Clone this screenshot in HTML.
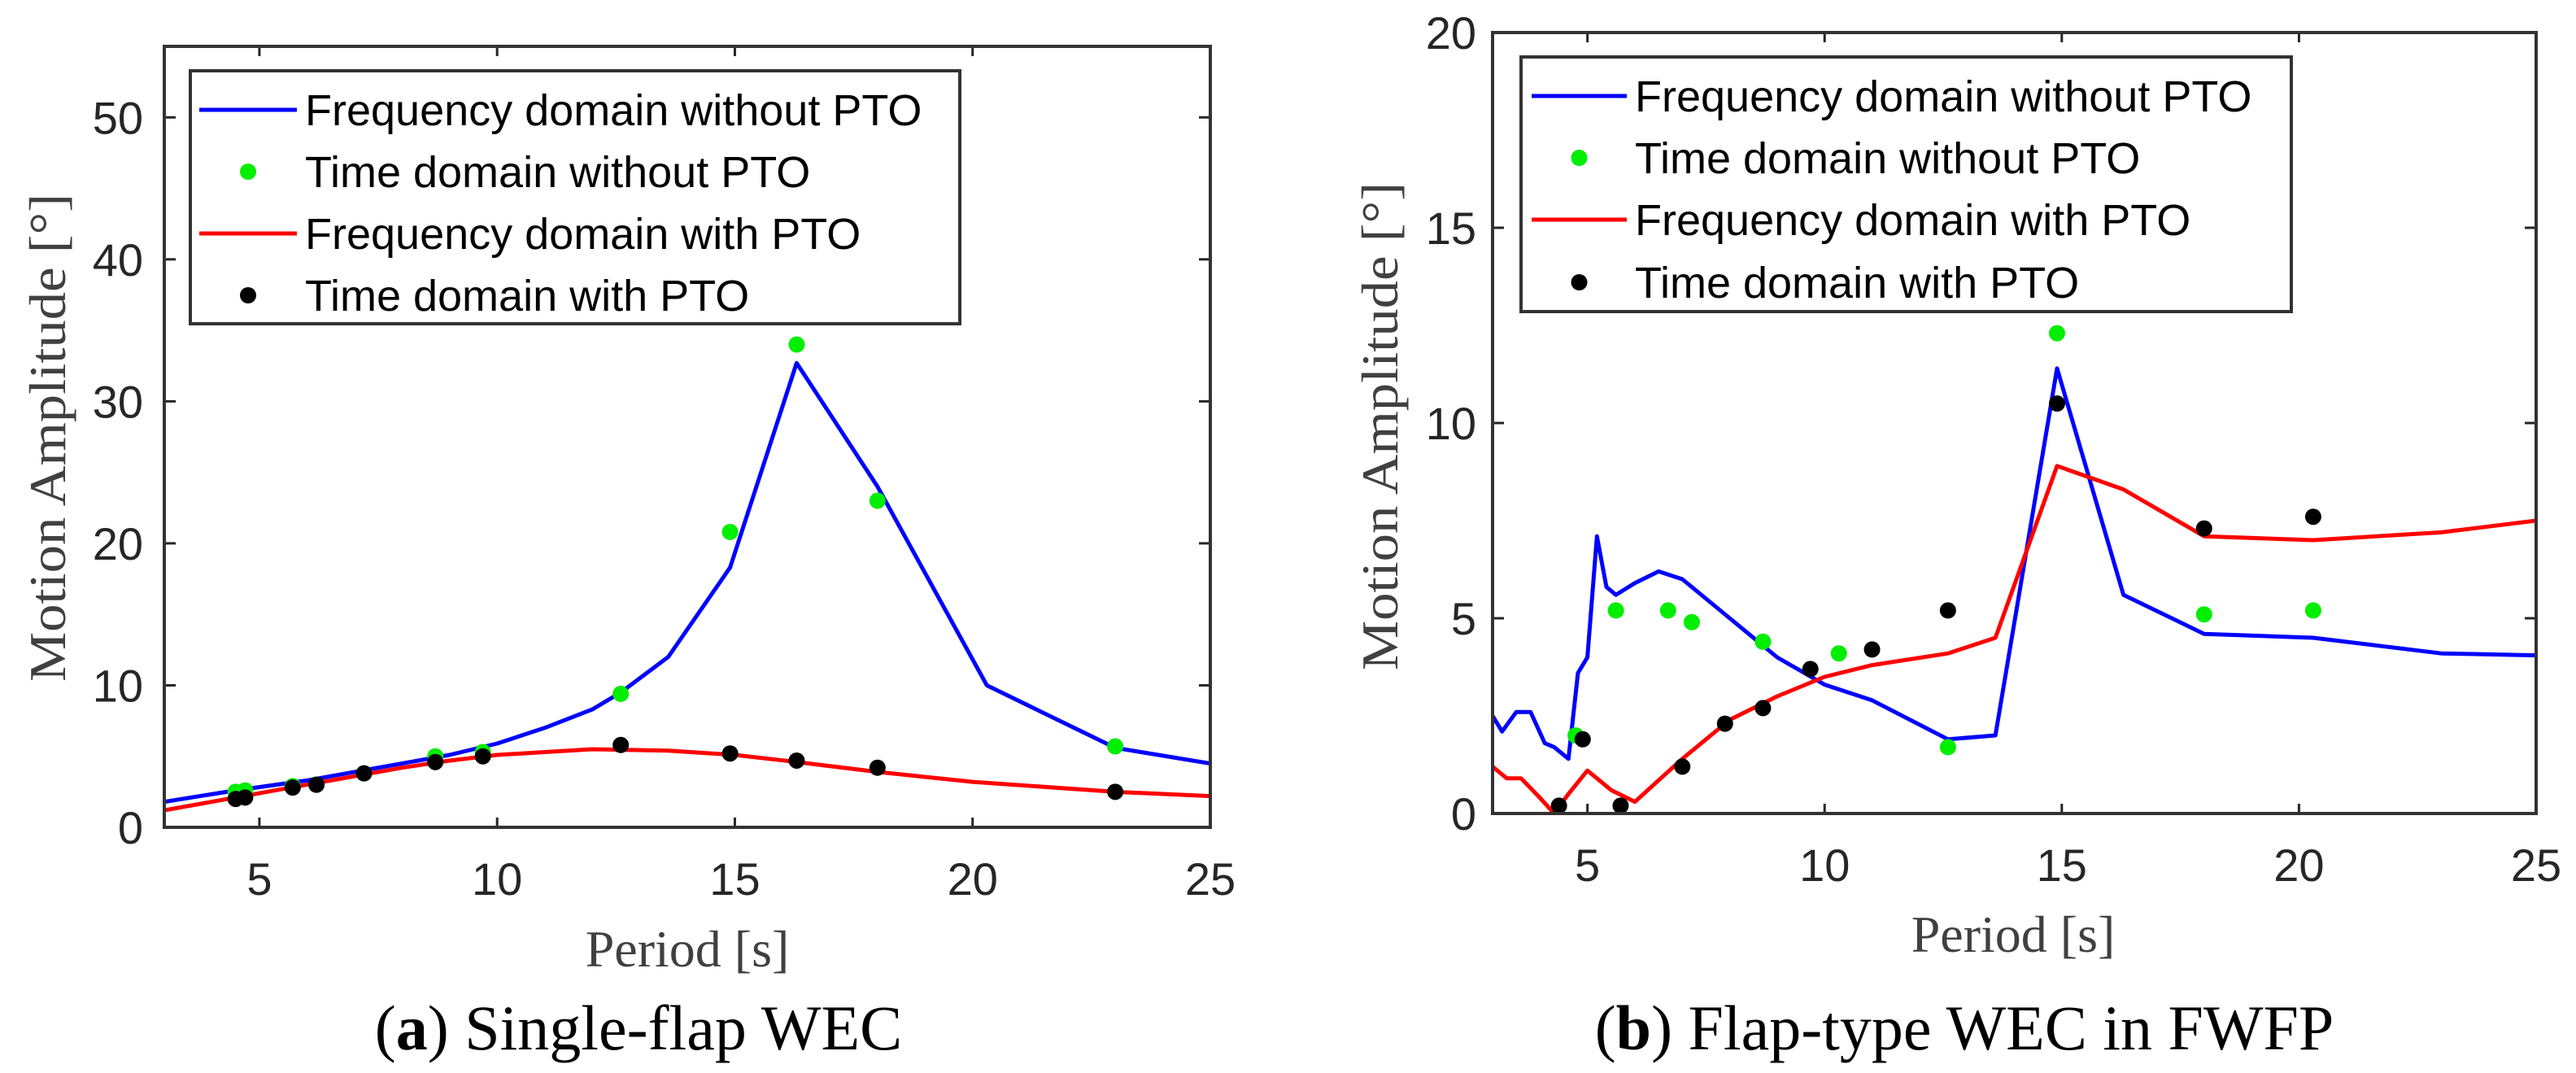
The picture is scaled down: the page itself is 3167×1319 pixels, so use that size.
<!DOCTYPE html>
<html><head><meta charset="utf-8"><style>
html,body{margin:0;padding:0;background:#fff;}
svg{display:block;}
.tick{font-family:"Liberation Sans",Arial,sans-serif;font-size:56px;fill:#262626;}
.leg{font-family:"Liberation Sans",Arial,sans-serif;font-size:54px;fill:#000;}
.ttl{font-family:"Liberation Serif",serif;font-size:64px;fill:#404040;}
.cap{font-family:"Liberation Serif",serif;font-size:78px;fill:#000;}
</style></head><body>
<svg id="chart" width="3167" height="1319" viewBox="0 0 3167 1319" xmlns="http://www.w3.org/2000/svg"></svg>
<script>
// Panel (a) data
const aBlueX=[3,4.5,6,7,8,9,10,11,12,12.6,13.6,14.9,16.3,18,20.3,23,25];
const aBlueY=[1.8,2.6,3.3,3.9,4.5,5.1,5.9,7,8.3,9.5,12,18.3,32.7,24,10,5.6,4.5];
const aGreenX=[4.5,4.7,5.7,6.2,7.2,8.7,9.7,12.6,14.9,16.3,18,23];
const aGreenY=[2.5,2.6,2.9,3.0,3.8,5.0,5.3,9.4,20.8,34,23,5.7];
const aRedX=[3,4.5,6,7,8,9,10,11,12,13.6,15,16.3,18,20,23,25];
const aRedY=[1.2,2.1,3.0,3.6,4.2,4.7,5.1,5.3,5.5,5.4,5.1,4.6,3.9,3.2,2.5,2.2];
const aBlackX=[4.5,4.7,5.7,6.2,7.2,8.7,9.7,12.6,14.9,16.3,18,23];
const aBlackY=[2.0,2.1,2.8,3.0,3.8,4.6,5.0,5.8,5.2,4.7,4.2,2.5];
const aXTicks=[5,10,15,20,25];
const aYTicks=[0,10,20,30,40,50];
// Panel (b) data
const bBlueX=[3,3.2,3.5,3.8,4.1,4.3,4.6,4.8,5.0,5.2,5.4,5.6,6.0,6.5,7,8,9,10,11,12.6,13.6,14.9,16.3,18,20.3,23,25];
const bBlueY=[2.5,2.1,2.6,2.6,1.8,1.7,1.4,3.6,4.0,7.1,5.8,5.6,5.9,6.2,6.0,5.0,4.0,3.3,2.9,1.9,2.0,11.4,5.6,4.6,4.5,4.1,4.05];
const bGreenX=[4.75,5.6,6.7,7.2,8.7,10.3,12.6,14.9,18,20.3];
const bGreenY=[2.0,5.2,5.2,4.9,4.4,4.1,1.7,12.3,5.1,5.2];
const bRedX=[3,3.3,3.6,4.0,4.3,4.6,5.0,5.5,6,7,8,9,10,11,12.6,13.6,14.9,16.3,18,20.3,23,25];
const bRedY=[1.2,0.9,0.9,0.4,0,0.5,1.1,0.6,0.3,1.4,2.4,3.0,3.5,3.8,4.1,4.5,8.9,8.3,7.1,7.0,7.2,7.5];
const bBlackX=[4.4,4.9,5.7,7,7.9,8.7,9.7,11,12.6,14.9,18,20.3];
const bBlackY=[0.2,1.9,0.2,1.2,2.3,2.7,3.7,4.2,5.2,10.5,7.3,7.6];
const bXTicks=[5,10,15,20,25];
const bYTicks=[0,5,10,15,20];
const legendLabels=["Frequency domain without PTO","Time domain without PTO","Frequency domain with PTO","Time domain with PTO"];

const NS="http://www.w3.org/2000/svg";
const svg=document.getElementById('chart');
function mk(tag,attrs,parent,text){const e=document.createElementNS(NS,tag);for(const k in attrs)e.setAttribute(k,attrs[k]);if(text!==undefined)e.textContent=text;(parent||svg).appendChild(e);return e;}

function panel(P){
  const g=mk('g',{});
  
  
  const sx=v=>P.L+(v-P.x0)/(P.x1-P.x0)*(P.R-P.L);
  const sy=v=>P.B-(v-P.y0)/(P.y1-P.y0)*(P.B-P.T);
  const clip=mk('clipPath',{id:P.id+'clip'},g);
  mk('rect',{x:P.L,y:P.T,width:P.R-P.L,height:P.B-P.T},clip);
  P.xt.forEach(v=>{
    const x=sx(v);
    mk('line',{x1:x,y1:P.B,x2:x,y2:P.B-12,stroke:'#262626','stroke-width':3},g);
    mk('line',{x1:x,y1:P.T,x2:x,y2:P.T+12,stroke:'#262626','stroke-width':3},g);
    const t=mk('text',{x:x,y:P.xly,'text-anchor':'middle',class:'tick'},g,String(v));
    
    
  });
  P.yt.forEach(v=>{
    const y=sy(v);
    mk('line',{x1:P.L,y1:y,x2:P.L+14,y2:y,stroke:'#262626','stroke-width':3},g);
    mk('line',{x1:P.R,y1:y,x2:P.R-14,y2:y,stroke:'#262626','stroke-width':3},g);
    const t=mk('text',{x:P.ylx,y:y+20,'text-anchor':'end',class:'tick'},g,String(v));
    
    
  });
  const series=[[P.bx,P.by,'#0000ff','line','blue'],[P.rx,P.ry,'#ff0000','line','red'],[P.gx,P.gy,'#00ee00','dot','green'],[P.kx,P.ky,'#000','dot','black']];
  series.forEach(s=>{
    if(s[3]==='line'){
      const d=s[0].map((x,i)=>(i?'L':'M')+sx(x).toFixed(1)+','+sy(s[1][i]).toFixed(1)).join('');
      const p=mk('path',{d:d,fill:'none',stroke:s[2],'stroke-width':5,'stroke-linejoin':'round','clip-path':'url(#'+P.id+'clip)'},g);
      
      
    } else {
      s[0].forEach((x,i)=>{
        const c=mk('circle',{cx:sx(x),cy:sy(s[1][i]),r:10,fill:s[2]},g);
        
        
      });
    }
  });
  mk('rect',{x:P.L,y:P.T,width:P.R-P.L,height:P.B-P.T,fill:'none',stroke:'#333','stroke-width':4},g);
  const lg=mk('g',{},g);
  
  
  mk('rect',{x:P.lg[0],y:P.lg[1],width:P.lg[2],height:P.lg[3],fill:'#fff',stroke:'#333','stroke-width':4},lg);
  const cols=['#0000ff','#00ee00','#ff0000','#000'];
  legendLabels.forEach((lab,i)=>{
    const y=P.rows[i];
    if(i%2===0) mk('line',{x1:P.ls[0],y1:y,x2:P.ls[1],y2:y,stroke:cols[i],'stroke-width':5},lg);
    else mk('circle',{cx:(P.ls[0]+P.ls[1])/2,cy:y,r:10,fill:cols[i]},lg);
    const t=mk('text',{x:P.ls[2],y:y+19,class:'leg'},lg,lab);
    
    
  });
  const xt=mk('text',{x:P.xtt[0],y:P.xtt[1],'text-anchor':'middle',class:'ttl'},g,'Period [s]');
  
  
  const yt=mk('text',{x:0,y:0,'text-anchor':'middle',class:'ttl',textLength:P.ytl,lengthAdjust:'spacingAndGlyphs',transform:'translate('+P.ytt[0]+','+P.ytt[1]+') rotate(-90)'},g,'Motion Amplitude [°]');
  
  
  const cp=mk('text',{x:P.cap[0],y:P.cap[1],'text-anchor':'middle',class:'cap'},g);
  
  
  mk('tspan',{},cp,'(');
  mk('tspan',{'font-weight':'bold'},cp,P.letter);
  mk('tspan',{},cp,') '+P.capText);
}

panel({id:'a',L:202,R:1488,T:57,B:1017,x0:3,x1:25,y0:0,y1:55,xt:aXTicks,yt:aYTicks,xly:1100,ylx:176,
  bx:aBlueX,by:aBlueY,gx:aGreenX,gy:aGreenY,rx:aRedX,ry:aRedY,kx:aBlackX,ky:aBlackY,
  lg:[234,87,946,311],rows:[135,211,287,363],ls:[245,365,375],xtt:[845,1188],ytt:[80,538],ytl:600,cap:[785,1290],letter:'a',capText:'Single-flap WEC'});
panel({id:'b',L:1835,R:3118,T:40,B:1000,x0:3,x1:25,y0:0,y1:20,xt:bXTicks,yt:bYTicks,xly:1083,ylx:1815,
  bx:bBlueX,by:bBlueY,gx:bGreenX,gy:bGreenY,rx:bRedX,ry:bRedY,kx:bBlackX,ky:bBlackY,
  lg:[1870,70,947,313],rows:[118,194,270,347],ls:[1883,2000,2010],xtt:[2475,1170],ytt:[1718,524],ytl:600,cap:[2415,1290],letter:'b',capText:'Flap-type WEC in FWFP'});
</script>
</body></html>
